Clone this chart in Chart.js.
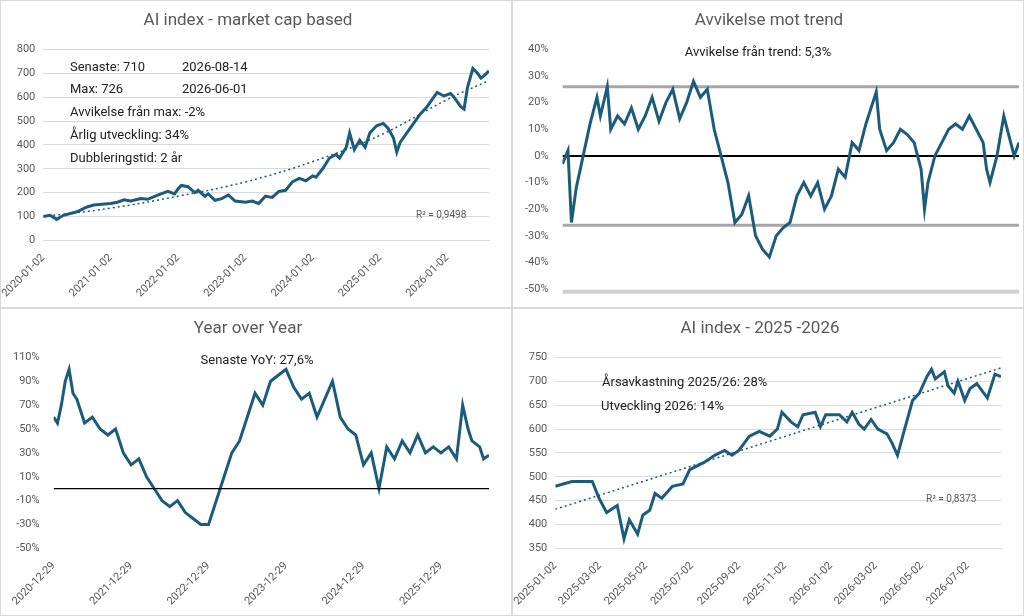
<!DOCTYPE html>
<html><head><meta charset="utf-8">
<script src="https://cdn.jsdelivr.net/npm/chart.js@4"></script>
<style>
body{margin:0;background:#fff;font-family:Roboto,"Liberation Sans",sans-serif}
#grid{display:grid;grid-template-columns:512px 512px;grid-template-rows:308px 308px}
.cell{position:relative;border:1px solid #d9d9d9;box-sizing:border-box}
canvas{position:absolute;left:0;top:0}
</style></head><body>
<div id="grid">
<div class="cell"><canvas id="c1" width="510" height="306"></canvas></div>
<div class="cell"><canvas id="c2" width="510" height="306"></canvas></div>
<div class="cell"><canvas id="c3" width="510" height="306"></canvas></div>
<div class="cell"><canvas id="c4" width="510" height="306"></canvas></div>
</div>
<script>
// index level, x = fractional year
const idxYears = [2020.0,2020.1,2020.2,2020.3,2020.5,2020.65,2020.75,2021.0,2021.1,2021.2,2021.3,2021.45,2021.55,2021.7,2021.85,2021.95,2022.0,2022.05,2022.15,2022.25,2022.3,2022.4,2022.45,2022.55,2022.65,2022.75,2022.85,2023.0,2023.1,2023.2,2023.3,2023.4,2023.5,2023.6,2023.7,2023.8,2023.9,2024.0,2024.05,2024.15,2024.25,2024.35,2024.4,2024.5,2024.55,2024.62,2024.7,2024.78,2024.85,2024.95,2025.05,2025.12,2025.2,2025.25,2025.3,2025.4,2025.5,2025.6,2025.7,2025.8,2025.85,2025.95,2026.05,2026.1,2026.2,2026.25,2026.3,2026.38,2026.45,2026.5,2026.55,2026.62];
const idxValues = [100,105,88,105,120,140,148,155,160,170,165,175,172,190,205,195,215,230,225,200,210,185,195,168,175,190,165,160,165,155,185,180,205,210,245,260,250,270,265,300,345,360,345,390,450,380,420,390,450,480,490,470,430,370,410,450,490,530,560,600,620,605,615,600,560,550,640,720,700,680,690,710];
const trendYears = [2020.0,2021,2022,2023,2024,2025,2026,2026.62];
const trendValues = [100,135,185,245,330,440,590,670];
const yearTicks = [2020,2021,2022,2023,2024,2025,2026];

// deviation from trend, %
const devYears = [2020.0,2020.08,2020.13,2020.2,2020.3,2020.4,2020.5,2020.55,2020.65,2020.7,2020.8,2020.9,2021.0,2021.1,2021.2,2021.3,2021.4,2021.5,2021.6,2021.7,2021.8,2021.9,2022.0,2022.1,2022.2,2022.3,2022.4,2022.5,2022.6,2022.7,2022.8,2022.9,2023.0,2023.1,2023.2,2023.3,2023.4,2023.5,2023.6,2023.7,2023.8,2023.9,2024.0,2024.1,2024.2,2024.3,2024.4,2024.5,2024.55,2024.6,2024.7,2024.8,2024.9,2025.0,2025.1,2025.2,2025.25,2025.3,2025.4,2025.5,2025.6,2025.7,2025.8,2025.9,2026.0,2026.1,2026.15,2026.2,2026.3,2026.4,2026.45,2026.5,2026.55,2026.62];
const devValues = [-3,2,-25,-12,0,12,22,15,26,10,15,12,18,10,15,22,13,20,25,14,20,28,22,25,10,0,-10,-25,-22,-15,-30,-35,-38,-30,-27,-25,-15,-10,-15,-10,-20,-15,-5,-8,5,2,12,20,24,10,2,5,10,8,5,-5,-20,-10,0,5,10,12,10,15,10,5,-5,-10,0,15,10,5,0,5];

// year over year, %
const yoyYears = [2021.0,2021.05,2021.1,2021.15,2021.2,2021.25,2021.3,2021.4,2021.5,2021.6,2021.7,2021.8,2021.9,2022.0,2022.1,2022.2,2022.3,2022.4,2022.5,2022.6,2022.7,2022.8,2022.9,2023.0,2023.05,2023.1,2023.2,2023.3,2023.4,2023.5,2023.6,2023.7,2023.8,2023.9,2024.0,2024.1,2024.2,2024.3,2024.4,2024.5,2024.6,2024.7,2024.8,2024.9,2025.0,2025.1,2025.2,2025.3,2025.4,2025.5,2025.6,2025.7,2025.8,2025.9,2026.0,2026.1,2026.2,2026.28,2026.35,2026.4,2026.5,2026.55,2026.62];
const yoyValues = [60,55,70,90,100,80,75,55,60,50,45,50,30,20,25,10,0,-10,-15,-10,-20,-25,-30,-30,-20,-10,10,30,40,60,80,70,90,95,100,85,75,80,60,75,90,60,50,45,20,30,0,35,25,40,30,45,30,35,30,35,25,70,50,40,35,25,28];
const yoyTicks = [2021,2022,2023,2024,2025,2026];

// 2025-2026 index, x = days since 2025-01-02
const recDays = [0,22,49,58,68,82,91,98,109,116,125,132,141,155,169,178,197,211,224,234,243,257,270,284,294,300,312,321,328,344,351,358,376,386,393,402,409,418,427,439,446,453,459,466,473,482,492,498,503,515,520,528,533,542,549,558,565,572,582,590];
const recValues = [480,490,490,455,425,440,370,410,380,420,430,465,455,480,485,515,530,545,555,545,555,585,595,585,600,635,615,605,630,635,605,630,630,615,635,610,600,620,600,590,570,545,580,620,660,675,710,725,705,720,690,675,700,660,685,695,680,665,715,710];
const recTrendDays = [0,590];
const recTrendValues = [432,728];
const recTicks = [0,59,120,181,243,304,365,424,485,546];
const recTickLabels = ['2025-01-02','2025-03-02','2025-05-02','2025-07-02','2025-09-02','2025-11-02','2026-01-02','2026-03-02','2026-05-02','2026-07-02'];

const BLUE = '#1b5c7c';
const FONT = 'Roboto, "Liberation Sans", sans-serif';
Chart.defaults.font.family = FONT;
Chart.defaults.color = '#595959';

const pts = (xs, ys) => xs.map((x, i) => ({x: x, y: ys[i]}));

const notesPlugin = {
  id: 'notes',
  afterDraw(chart, args, opts) {
    const ctx = chart.ctx;
    (opts.items || []).forEach(n => {
      ctx.save();
      ctx.font = (n.size || 13) + 'px ' + FONT;
      ctx.fillStyle = n.color || '#222';
      ctx.textAlign = n.align || 'left';
      ctx.textBaseline = 'middle';
      ctx.fillText(n.text, n.x, n.y);
      ctx.restore();
    });
  }
};

function lineSet(data, extra) {
  return Object.assign({data: data, borderColor: BLUE, borderWidth: 3, pointRadius: 0, tension: 0, fill: false}, extra || {});
}

function makeChart(id, datasets, x, y, title, notes, padding) {
  return new Chart(document.getElementById(id), {
    type: 'line',
    data: {datasets: datasets},
    options: {
      responsive: false, animation: false,
      layout: {padding: padding},
      plugins: {
        legend: {display: false}, tooltip: {enabled: false},
        title: {display: true, text: title, color: '#595959', font: {size: 17, weight: 'normal'}, padding: {top: 10, bottom: 18}},
        notes: {items: notes}
      },
      scales: {x: x, y: y}
    },
    plugins: [notesPlugin]
  });
}

const gridOn = {color: '#d9d9d9', drawTicks: false};
const tickFont = {size: 11};

// 1: AI index
makeChart('c1', [
  lineSet(pts(idxYears, idxValues)),
  lineSet(pts(trendYears, trendValues), {borderWidth: 1.5, borderDash: [2, 3], tension: 0.4})
], {
  type: 'linear', min: 2020, max: 2026.62,
  afterBuildTicks: a => { a.ticks = yearTicks.map(v => ({value: v})); },
  ticks: {callback: v => v + '-01-02', maxRotation: 45, minRotation: 45, font: tickFont},
  grid: {display: false}, border: {color: '#d9d9d9'}
}, {
  min: 0, max: 800, ticks: {stepSize: 100, font: tickFont, padding: 8}, grid: gridOn, border: {display: false}
}, 'AI index - market cap based', [
  {text: 'Senaste: 710', x: 69, y: 67}, {text: '2026-08-14', x: 181, y: 67},
  {text: 'Max: 726', x: 69, y: 89}, {text: '2026-06-01', x: 181, y: 89},
  {text: 'Avvikelse från max: -2%', x: 69, y: 112},
  {text: 'Årlig utveckling: 34%', x: 69, y: 135},
  {text: 'Dubbleringstid: 2 år', x: 69, y: 158},
  {text: 'R² = 0,9498', x: 415, y: 214, size: 10, color: '#595959'}
], {left: 6, right: 22, bottom: 4});

// 2: deviation from trend
makeChart('c2', [
  lineSet(pts(devYears, devValues)),
  {data: [{x: 2020, y: 26}, {x: 2026.62, y: 26}], borderColor: '#a6a6a6', borderWidth: 3, pointRadius: 0},
  {data: [{x: 2020, y: -26}, {x: 2026.62, y: -26}], borderColor: '#a6a6a6', borderWidth: 3, pointRadius: 0},
  {data: [{x: 2020, y: -51}, {x: 2026.62, y: -51}], borderColor: '#d0d0d0', borderWidth: 4, pointRadius: 0},
  {data: [{x: 2020, y: 0}, {x: 2026.62, y: 0}], borderColor: '#000', borderWidth: 2, pointRadius: 0}
], {
  type: 'linear', min: 2020, max: 2026.62, display: false
}, {
  min: -52, max: 40, afterBuildTicks: a => { a.ticks = [-50,-40,-30,-20,-10,0,10,20,30,40].map(v => ({value: v})); },
  ticks: {callback: v => v + '%', font: tickFont, padding: 6}, grid: {display: false}, border: {display: false}
}, 'Avvikelse mot trend', [
  {text: 'Avvikelse från trend: 5,3%', x: 245, y: 52, align: 'center'}
], {left: 6, right: 4, bottom: 12});

// 3: year over year
makeChart('c3', [
  {data: [{x: 2021, y: 0}, {x: 2026.62, y: 0}], borderColor: '#000', borderWidth: 1.2, pointRadius: 0},
  lineSet(pts(yoyYears, yoyValues))
], {
  type: 'linear', min: 2021, max: 2026.62,
  afterBuildTicks: a => { a.ticks = yoyTicks.map(v => ({value: v})); },
  ticks: {callback: v => (v - 1) + '-12-29', maxRotation: 45, minRotation: 45, font: tickFont},
  grid: {display: false}, border: {display: false}
}, {
  min: -50, max: 110, ticks: {stepSize: 20, callback: v => v + '%', font: tickFont, padding: 6}, grid: {display: false}, border: {display: false}
}, 'Year over Year', [
  {text: 'Senaste YoY: 27,6%', x: 256, y: 52, align: 'center'}
], {left: 6, right: 22, bottom: 4});

// 4: 2025-2026
makeChart('c4', [
  lineSet(pts(recDays, recValues)),
  lineSet(pts(recTrendDays, recTrendValues), {borderWidth: 1.5, borderDash: [2, 3]})
], {
  type: 'linear', min: 0, max: 590,
  afterBuildTicks: a => { a.ticks = recTicks.map(v => ({value: v})); },
  ticks: {callback: v => recTickLabels[recTicks.indexOf(v)], maxRotation: 45, minRotation: 45, font: tickFont},
  grid: {display: false}, border: {color: '#d9d9d9'}
}, {
  min: 350, max: 750, ticks: {stepSize: 50, font: tickFont, padding: 8}, grid: gridOn, border: {display: false}
}, 'AI index - 2025 -2026', [
  {text: 'Årsavkastning 2025/26: 28%', x: 89, y: 74},
  {text: 'Utveckling 2026: 14%', x: 88, y: 98},
  {text: 'R² = 0,8373', x: 413, y: 190, size: 10, color: '#595959'}
], {left: 6, right: 22, bottom: 4});
</script>
</body></html>
